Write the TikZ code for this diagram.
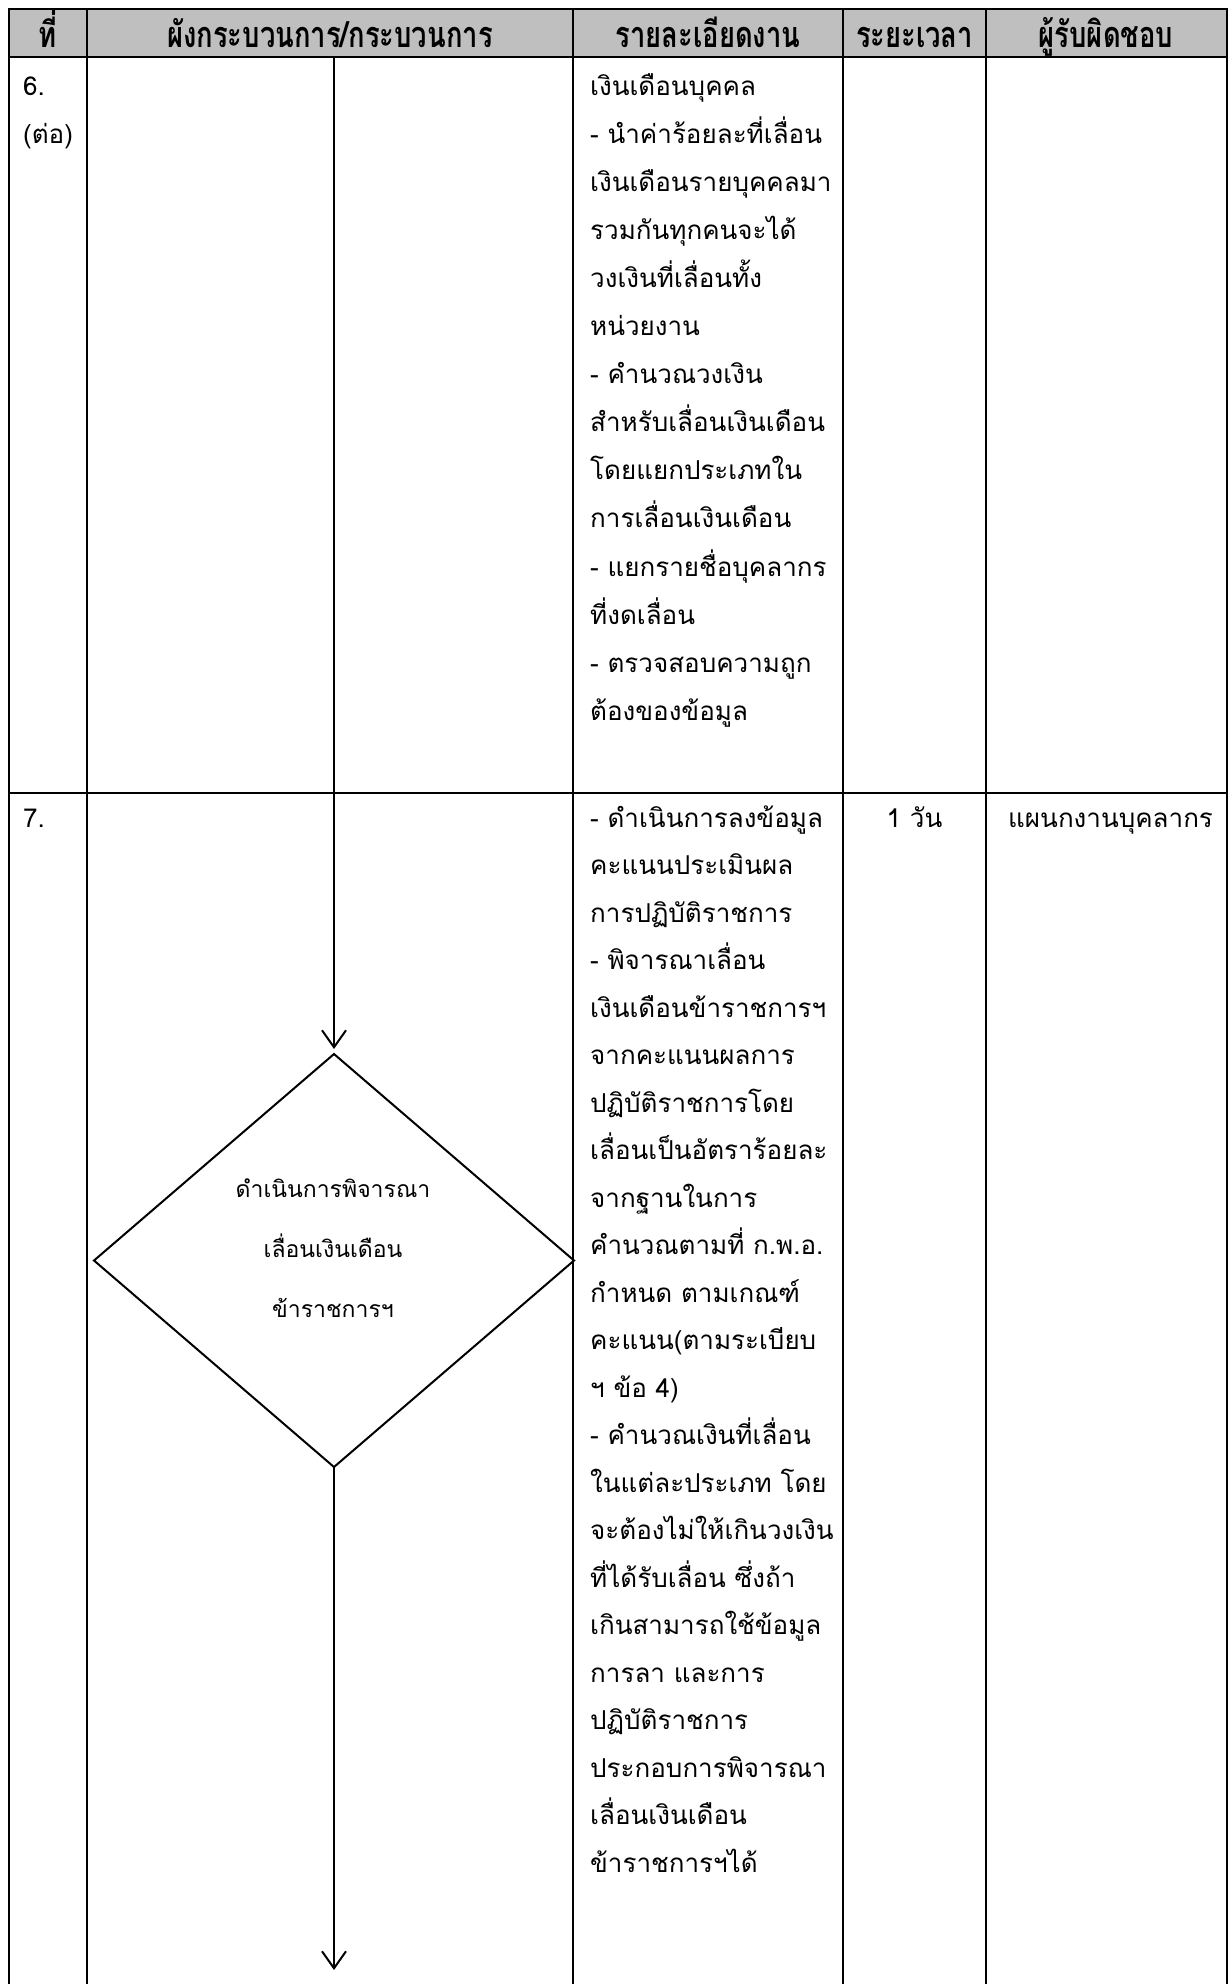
\documentclass[tikz,border=0pt]{standalone}
\usepackage{fontspec}
\setmainfont{Liberation Sans}
\newfontfamily\thai[Script=Thai]{Loma}
\newfontfamily\thaihead[Script=Thai,FakeStretch=0.76]{Loma}
\usetikzlibrary{shapes.geometric,arrows.meta}
\definecolor{headgray}{RGB}{191,191,191}
\tikzset{
  gridline/.style={line width=2.2pt, line cap=rect},
  headtxt/.style={anchor=base, inner sep=0pt, font=\thaihead\bfseries\fontsize{36}{40}\selectfont},
  bodytxt/.style={anchor=base west, inner sep=0pt, font=\thai\fontsize{26}{30}\selectfont},
  midtxt/.style={anchor=base, inner sep=0pt, font=\thai\fontsize{26}{30}\selectfont},
  diatxt/.style={anchor=base, inner sep=0pt, font=\thai\fontsize{23}{30}\selectfont},
  decision/.style={draw, diamond, line width=2pt, minimum width=480pt, minimum height=413pt, inner sep=0pt, outer sep=0pt},
  flowarrow/.style={line width=2pt, -{Straight Barb[length=17pt,width=24pt,line width=2pt]}}
}
\begin{document}
\begin{tikzpicture}[x=1pt,y=-1pt]
\useasboundingbox (0,0) rectangle (1231,1984);
% header fill
\fill[headgray] (9,9) rectangle (1227,57);
% grid
\draw[gridline] (9,9) -- (1227,9);
\draw[gridline] (9,57) -- (1227,57);
\draw[gridline] (9,793) -- (1227,793);
\foreach \xx in {9,87,573,843,986,1227}
  \draw[gridline] (\xx,9) -- (\xx,1984);
% header texts
\node[headtxt] (h1) at (48,47) {ที่};
\node[headtxt] (h2) at (330,47) {ผังกระบวนการ/กระบวนการ};
\node[headtxt] (h3) at (708,47) {รายละเอียดงาน};
\node[headtxt] (h4) at (914.5,47) {ระยะเวลา};
\node[headtxt] (h5) at (1106,47) {ผู้รับผิดชอบ};
% row 6
\node[bodytxt] (n6) at (23,95) {6.};
\node[bodytxt] (n6b) at (23,143) {(ต่อ)};
\foreach \t [count=\i from 0] in {{เงินเดือนบุคคล},{- นำค่าร้อยละที่เลื่อน},{เงินเดือนรายบุคคลมา},{รวมกันทุกคนจะได้},{วงเงินที่เลื่อนทั้ง},{หน่วยงาน},{- คำนวณวงเงิน},{สำหรับเลื่อนเงินเดือน},{โดยแยกประเภทใน},{การเลื่อนเงินเดือน},{- แยกรายชื่อบุคลากร},{ที่งดเลื่อน},{- ตรวจสอบความถูก},{ต้องของข้อมูล}}
  \node[bodytxt] (a\i) at (590,{95+48.1*\i}) {\t};
% row 7
\node[bodytxt] (n7) at (23,827) {7.};
\node[midtxt] (t7) at (914.5,827) {1 วัน};
\node[bodytxt] (r7) at (1008,827) {แผนกงานบุคลากร};
\foreach \t [count=\i from 0] in {{- ดำเนินการลงข้อมูล},{คะแนนประเมินผล},{การปฏิบัติราชการ},{- พิจารณาเลื่อน},{เงินเดือนข้าราชการฯ},{จากคะแนนผลการ},{ปฏิบัติราชการโดย},{เลื่อนเป็นอัตราร้อยละ},{จากฐานในการ},{คำนวณตามที่ ก.พ.อ.},{กำหนด ตามเกณฑ์},{คะแนน(ตามระเบียบ},{ฯ ข้อ 4)},{- คำนวณเงินที่เลื่อน},{ในแต่ละประเภท โดย},{จะต้องไม่ให้เกินวงเงิน},{ที่ได้รับเลื่อน ซึ่งถ้า},{เกินสามารถใช้ข้อมูล},{การลา และการ},{ปฏิบัติราชการ},{ประกอบการพิจารณา},{เลื่อนเงินเดือน},{ข้าราชการฯได้}}
  \node[bodytxt] (b\i) at (590,{827+47.5*\i}) {\t};
% flow
\coordinate (start) at (334,57);
\coordinate (finish) at (334,1970);
\node[decision] (dia) at (334,1260.5) {};
\node[diatxt] (d1) at (333,1197) {ดำเนินการพิจารณา};
\node[diatxt] (d2) at (333,1257) {เลื่อนเงินเดือน};
\node[diatxt] (d3) at (333,1317) {ข้าราชการฯ};
\draw[flowarrow] (start) -- ([yshift=5pt]dia.north);
\draw[flowarrow] (dia.south) -- (finish);
\end{tikzpicture}
\end{document}
